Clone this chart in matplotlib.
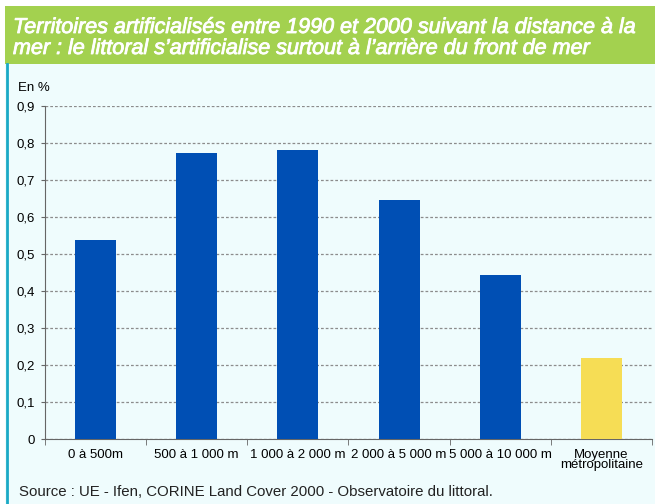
import matplotlib.pyplot as plt
import matplotlib.patheffects as pe
import numpy as np
from matplotlib.patches import Rectangle
from matplotlib.lines import Line2D

categories = ["0 à 500m", "500 à 1 000 m", "1 000 à 2 000 m", "2 000 à 5 000 m",
              "5 000 à 10 000 m", "Moyenne\nmétropolitaine"]
values = [0.538, 0.773, 0.781, 0.646, 0.443, 0.219]
bar_colors = ["#004fb4"] * 5 + ["#f6dd55"]
yticks = [0, 0.1, 0.2, 0.3, 0.4, 0.5, 0.6, 0.7, 0.8, 0.9]

title = ("Territoires artificialisés entre 1990 et 2000 suivant la distance à la\n"
         "mer : le littoral s’artificialise surtout à l’arrière du front de mer")
source = "Source : UE - Ifen, CORINE Land Cover 2000 - Observatoire du littoral."

plt.rcParams["font.family"] = ["Liberation Sans", "DejaVu Sans"]

W, H = 655, 504
fig = plt.figure(figsize=(W / 100, H / 100), dpi=100)
fig.patch.set_facecolor("white")

# panel background, green header band and teal left rule
fig.add_artist(Rectangle((5 / W, 0), 1, 1 - 64 / H, transform=fig.transFigure,
                         facecolor="#effcfd", edgecolor="none", zorder=0))
fig.add_artist(Rectangle((5 / W, 1 - 64 / H), 1, 58 / H, transform=fig.transFigure,
                         facecolor="#a3d14f", edgecolor="none", zorder=0))
fig.add_artist(Line2D([7 / W, 7 / W], [0, 1 - 64 / H], transform=fig.transFigure,
                      color="#1aa9c6", linewidth=2.0, zorder=1))

fig.text(13 / W, 1 - 38 / H, title, color="white", fontsize=15.5, style="italic",
         va="center", ha="left", linespacing=1.0,
         path_effects=[pe.withStroke(linewidth=0.6, foreground="white")])

ax = fig.add_axes([45 / W, 1 - 439 / H, 607 / W, 333 / H])
ax.set_facecolor("none")
x = np.arange(len(categories))
ax.bar(x, values, width=0.405, color=bar_colors, zorder=3)
ax.set_xlim(-0.5, len(categories) - 0.5)
ax.set_ylim(0, 0.9)
ax.set_yticks(yticks)
ax.set_yticklabels([("%g" % v).replace(".", ",") for v in yticks], fontsize=9.5)
ax.set_xticks(x)
ax.set_xticklabels(categories, fontsize=9.5, linespacing=0.85)
ax.tick_params(axis="x", length=0, pad=7)
ax.set_xticks(np.arange(len(categories) + 1) - 0.5, minor=True)
ax.tick_params(axis="x", which="minor", length=4, color="#666666")
ax.tick_params(axis="y", length=3, color="#666666", pad=4)
ax.grid(axis="y", linestyle=(0, (2.2, 1.6)), color="#8c8c8c", linewidth=0.9, zorder=1)
for s in ["top", "right"]:
    ax.spines[s].set_visible(False)
ax.spines["left"].set_color("#666666")
ax.spines["bottom"].set_color("#666666")

fig.text(18 / W, 1 - 88 / H, "En %", fontsize=9.5, va="center", ha="left")
fig.text(19 / W, 1 - 492 / H, source, fontsize=10.8, va="center", ha="left",
         color="#222222")

fig.savefig("out.png", dpi=100)
